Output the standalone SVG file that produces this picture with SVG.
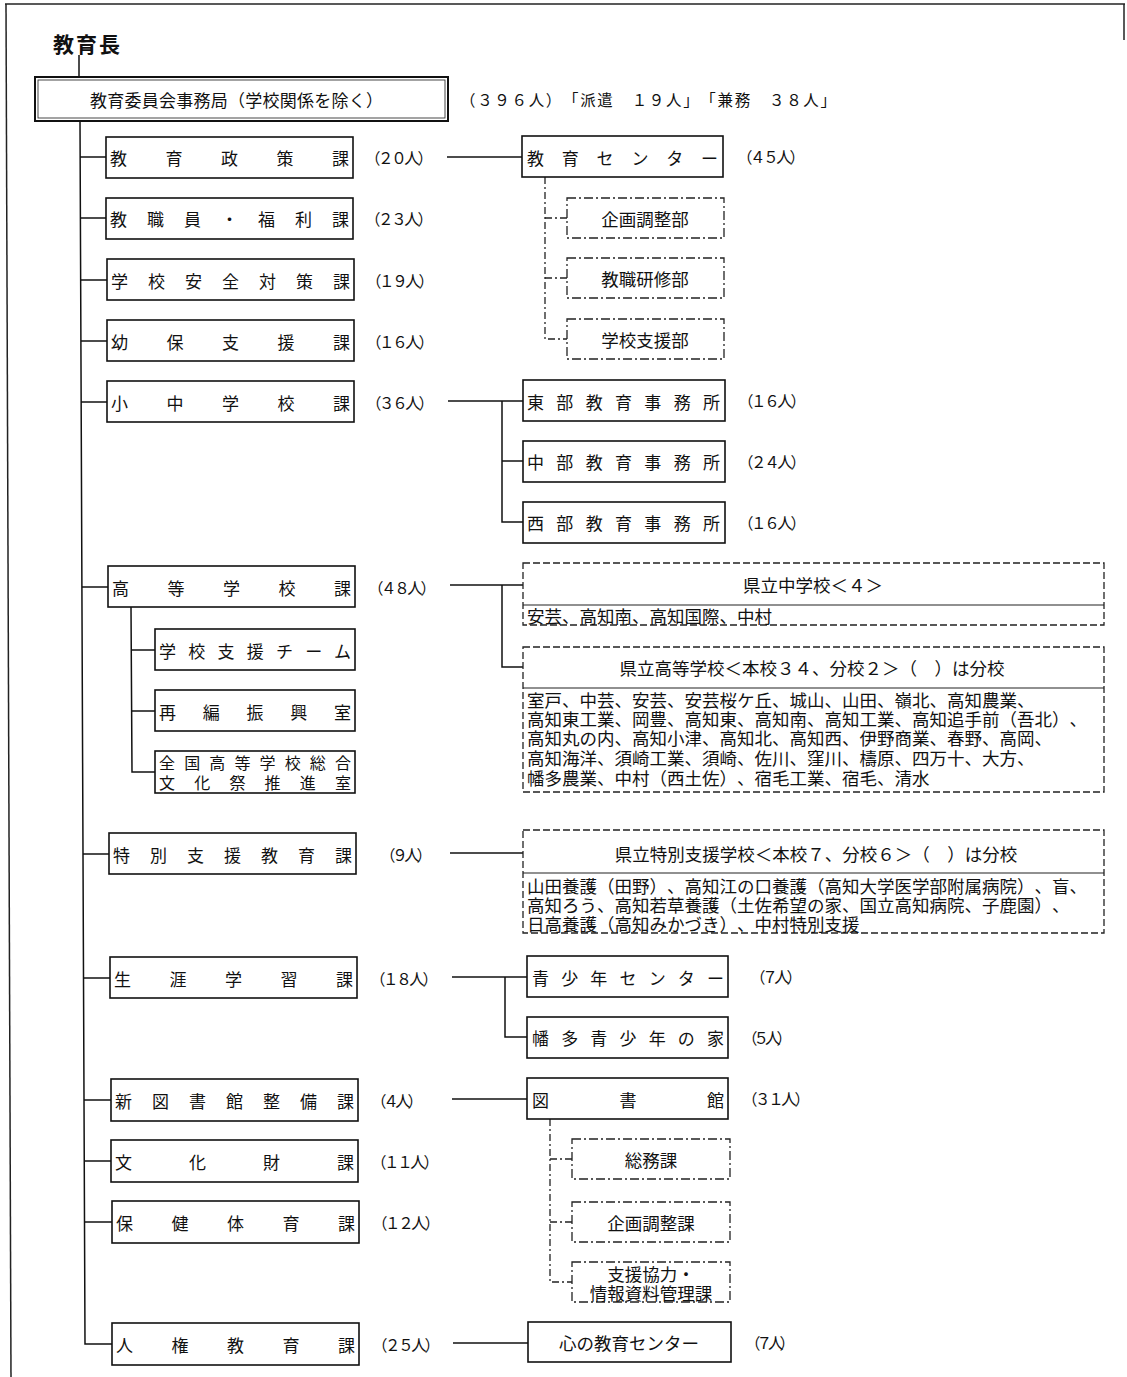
<svg xmlns="http://www.w3.org/2000/svg" width="1127" height="1377" viewBox="0 0 1127 1377">
<style>
text{font-family:"Noto Sans CJK JP","Noto Sans CJK SC",sans-serif;fill:#111;dominant-baseline:central;text-spacing-trim:space-all}
.b{fill:#fff;stroke:#111;stroke-width:1.6}
.d{fill:#fff;stroke:#222;stroke-width:1.3;stroke-dasharray:9 3 2 3}
.dd{fill:none;stroke:#222;stroke-width:1.3;stroke-dasharray:7 3}
.l{fill:none;stroke:#111;stroke-width:1.5}
.dl{fill:none;stroke:#222;stroke-width:1.3;stroke-dasharray:7 3 2 3}
.t{font-size:17px}
.c{font-size:15.5px}
.s{font-size:17.5px}
.li{font-size:17.5px}
.m{text-anchor:middle}
.fr{fill:none;stroke:#222;stroke-width:1.5}
</style>
<rect x="0" y="0" width="1127" height="1377" fill="#fff"/>
<g id="frame">
<line class="fr" x1="5" y1="4" x2="1125" y2="4"/>
<line class="fr" x1="6" y1="4" x2="11" y2="1377"/>
<line class="fr" x1="1124" y1="4" x2="1124" y2="40"/>
</g>
<g id="connectors">
<line class="l" x1="79" y1="55" x2="79" y2="77"/>
<polyline class="l" points="80,121 85,1344 112,1344"/>
<line class="l" x1="80" y1="157" x2="106" y2="157"/>
<line class="l" x1="80" y1="218" x2="106" y2="218"/>
<line class="l" x1="80" y1="280" x2="107" y2="280"/>
<line class="l" x1="81" y1="341" x2="107" y2="341"/>
<line class="l" x1="81" y1="402" x2="107" y2="402"/>
<line class="l" x1="82" y1="587" x2="108" y2="587"/>
<polyline class="l" points="131,607 132,772 155,772"/>
<line class="l" x1="131" y1="650" x2="155" y2="650"/>
<line class="l" x1="131" y1="711" x2="155" y2="711"/>
<line class="l" x1="83" y1="854" x2="109" y2="854"/>
<line class="l" x1="84" y1="978" x2="110" y2="978"/>
<line class="l" x1="84" y1="1100" x2="111" y2="1100"/>
<line class="l" x1="84" y1="1161" x2="111" y2="1161"/>
<line class="l" x1="85" y1="1222" x2="112" y2="1222"/>
<line class="l" x1="447" y1="157" x2="522" y2="157"/>
<line class="l" x1="448" y1="401" x2="523" y2="401"/>
<polyline class="l" points="502,401 502,522 523,522"/>
<line class="l" x1="502" y1="461" x2="523" y2="461"/>
<line class="l" x1="450" y1="585" x2="523" y2="585"/>
<polyline class="l" points="502,585 502,667 523,667"/>
<line class="l" x1="450" y1="853" x2="523" y2="853"/>
<line class="l" x1="452" y1="977" x2="527" y2="977"/>
<polyline class="l" points="505,977 505,1037 527,1037"/>
<line class="l" x1="452" y1="1099" x2="528" y2="1099"/>
<line class="l" x1="453" y1="1343" x2="528" y2="1343"/>
<polyline class="dl" points="545,177 545,339 567,339"/>
<line class="dl" x1="545" y1="218" x2="567" y2="218"/>
<line class="dl" x1="545" y1="278" x2="567" y2="278"/>
<polyline class="dl" points="550,1119 550,1282 572,1282"/>
<line class="dl" x1="550" y1="1159" x2="572" y2="1159"/>
<line class="dl" x1="550" y1="1222" x2="572" y2="1222"/>
</g>
<g id="kyoikucho"><text x="53" y="43" style="font-size:21px;font-weight:bold" textLength="67" lengthAdjust="spacing">教育長</text></g>
<g id="jimukyoku">
<rect class="b" x="35" y="77" width="413" height="44" style="stroke-width:2"/>
<rect x="38" y="80" width="407" height="38" fill="none" stroke="#333" stroke-width="0.9"/>
<text class="t" x="90" y="99" textLength="293" lengthAdjust="spacing">教育委員会事務局（学校関係を除く）</text>
<text class="c" x="460" y="99" textLength="376" lengthAdjust="spacing">（３９６人）「派遣　１９人」「兼務　３８人」</text>
</g>
<g id="n1"><rect class="b" x="106" y="137" width="247" height="41"/><text class="t" x="110" y="157" textLength="239" lengthAdjust="spacing">教育政策課</text><text class="c" x="365" y="157" textLength="68" lengthAdjust="spacing">（２０人）</text></g>
<g id="n2"><rect class="b" x="106" y="198" width="247" height="41"/><text class="t" x="110" y="218" textLength="239" lengthAdjust="spacing">教職員・福利課</text><text class="c" x="365" y="218" textLength="68" lengthAdjust="spacing">（２３人）</text></g>
<g id="n3"><rect class="b" x="107" y="259" width="247" height="41"/><text class="t" x="111" y="280" textLength="239" lengthAdjust="spacing">学校安全対策課</text><text class="c" x="366" y="280" textLength="68" lengthAdjust="spacing">（１９人）</text></g>
<g id="n4"><rect class="b" x="107" y="320" width="247" height="41"/><text class="t" x="111" y="341" textLength="239" lengthAdjust="spacing">幼保支援課</text><text class="c" x="366" y="341" textLength="68" lengthAdjust="spacing">（１６人）</text></g>
<g id="n5"><rect class="b" x="107" y="381" width="247" height="41"/><text class="t" x="111" y="402" textLength="239" lengthAdjust="spacing">小中学校課</text><text class="c" x="366" y="402" textLength="68" lengthAdjust="spacing">（３６人）</text></g>
<g id="n6"><rect class="b" x="108" y="566" width="247" height="41"/><text class="t" x="112" y="587" textLength="239" lengthAdjust="spacing">高等学校課</text><text class="c" x="368" y="587" textLength="68" lengthAdjust="spacing">（４８人）</text></g>
<g id="n6a"><rect class="b" x="155" y="629" width="200" height="41"/><text class="t" x="159" y="650" textLength="192" lengthAdjust="spacing">学校支援チーム</text></g>
<g id="n6b"><rect class="b" x="155" y="690" width="200" height="41"/><text class="t" x="159" y="711" textLength="192" lengthAdjust="spacing">再編振興室</text></g>
<g id="n6c"><rect class="b" x="155" y="751" width="200" height="42"/><text style="font-size:16px" x="159" y="762" textLength="192" lengthAdjust="spacing">全国高等学校総合</text><text style="font-size:16px" x="159" y="782" textLength="192" lengthAdjust="spacing">文化祭推進室</text></g>
<g id="n7"><rect class="b" x="109" y="833" width="247" height="41"/><text class="t" x="113" y="854" textLength="239" lengthAdjust="spacing">特別支援教育課</text><text class="c" x="380" y="854" textLength="52" lengthAdjust="spacing">（９人）</text></g>
<g id="n8"><rect class="b" x="110" y="957" width="247" height="41"/><text class="t" x="114" y="978" textLength="239" lengthAdjust="spacing">生涯学習課</text><text class="c" x="370" y="978" textLength="68" lengthAdjust="spacing">（１８人）</text></g>
<g id="n9"><rect class="b" x="111" y="1079" width="247" height="42"/><text class="t" x="115" y="1100" textLength="239" lengthAdjust="spacing">新図書館整備課</text><text class="c" x="371" y="1100" textLength="52" lengthAdjust="spacing">（４人）</text></g>
<g id="n10"><rect class="b" x="111" y="1140" width="247" height="42"/><text class="t" x="115" y="1161" textLength="239" lengthAdjust="spacing">文化財課</text><text class="c" x="371" y="1161" textLength="68" lengthAdjust="spacing">（１１人）</text></g>
<g id="n11"><rect class="b" x="112" y="1201" width="247" height="42"/><text class="t" x="116" y="1222" textLength="239" lengthAdjust="spacing">保健体育課</text><text class="c" x="372" y="1222" textLength="68" lengthAdjust="spacing">（１２人）</text></g>
<g id="n12"><rect class="b" x="112" y="1323" width="247" height="42"/><text class="t" x="116" y="1344" textLength="239" lengthAdjust="spacing">人権教育課</text><text class="c" x="372" y="1344" textLength="68" lengthAdjust="spacing">（２５人）</text></g>
<g id="r1"><rect class="b" x="522" y="136" width="201" height="41"/><text class="t" x="527" y="157" textLength="191" lengthAdjust="spacing">教育センター</text><text class="c" x="737" y="156" textLength="68" lengthAdjust="spacing">（４５人）</text></g>
<g id="r1a"><rect class="d" x="567" y="198" width="157" height="40"/><text class="s m" x="645" y="218">企画調整部</text></g>
<g id="r1b"><rect class="d" x="567" y="258" width="157" height="40"/><text class="s m" x="645" y="278">教職研修部</text></g>
<g id="r1c"><rect class="d" x="567" y="319" width="157" height="40"/><text class="s m" x="645" y="339">学校支援部</text></g>
<g id="r2"><rect class="b" x="523" y="380" width="202" height="41"/><text class="t" x="527" y="401" textLength="193" lengthAdjust="spacing">東部教育事務所</text><text class="c" x="738" y="400" textLength="68" lengthAdjust="spacing">（１６人）</text></g>
<g id="r3"><rect class="b" x="523" y="441" width="202" height="41"/><text class="t" x="527" y="461" textLength="193" lengthAdjust="spacing">中部教育事務所</text><text class="c" x="738" y="461" textLength="68" lengthAdjust="spacing">（２４人）</text></g>
<g id="r4"><rect class="b" x="523" y="502" width="202" height="41"/><text class="t" x="527" y="522" textLength="193" lengthAdjust="spacing">西部教育事務所</text><text class="c" x="738" y="522" textLength="68" lengthAdjust="spacing">（１６人）</text></g>
<g id="r5">
<rect class="dd" x="523" y="563" width="581" height="62"/>
<line x1="523" y1="605" x2="1104" y2="605" stroke="#222" stroke-width="1.2"/>
<text class="s m" x="813" y="584">県立中学校＜４＞</text>
<text class="li" x="527" y="615">安芸、高知南、高知国際、中村</text>
</g>
<g id="r6">
<rect class="dd" x="523" y="647" width="581" height="145"/>
<line x1="523" y1="688" x2="1104" y2="688" stroke="#222" stroke-width="1.2"/>
<text class="s m" x="812" y="667">県立高等学校＜本校３４、分校２＞（　）は分校</text>
<text class="li" x="527" y="699">室戸、中芸、安芸、安芸桜ケ丘、城山、山田、嶺北、高知農業、</text>
<text class="li" x="527" y="718">高知東工業、岡豊、高知東、高知南、高知工業、高知追手前（吾北）、</text>
<text class="li" x="527" y="737">高知丸の内、高知小津、高知北、高知西、伊野商業、春野、高岡、</text>
<text class="li" x="527" y="757">高知海洋、須崎工業、須崎、佐川、窪川、檮原、四万十、大方、</text>
<text class="li" x="527" y="777">幡多農業、中村（西土佐）、宿毛工業、宿毛、清水</text>
</g>
<g id="r7">
<rect class="dd" x="523" y="830" width="581" height="103"/>
<line x1="523" y1="873" x2="1104" y2="873" stroke="#222" stroke-width="1.2"/>
<text class="s m" x="816" y="853">県立特別支援学校＜本校７、分校６＞（　）は分校</text>
<text class="li" x="527" y="885">山田養護（田野）、高知江の口養護（高知大学医学部附属病院）、盲、</text>
<text class="li" x="527" y="904">高知ろう、高知若草養護（土佐希望の家、国立高知病院、子鹿園）、</text>
<text class="li" x="527" y="923">日高養護（高知みかづき）、中村特別支援</text>
</g>
<g id="r8"><rect class="b" x="527" y="956" width="201" height="41"/><text class="t" x="532" y="977" textLength="192" lengthAdjust="spacing">青少年センター</text><text class="c" x="750" y="976" textLength="52" lengthAdjust="spacing">（７人）</text></g>
<g id="r9"><rect class="b" x="527" y="1017" width="201" height="41"/><text class="t" x="532" y="1037" textLength="192" lengthAdjust="spacing">幡多青少年の家</text><text class="c" x="742" y="1037" textLength="50" lengthAdjust="spacing">（５人）</text></g>
<g id="r10"><rect class="b" x="527" y="1078" width="201" height="41"/><text class="t" x="532" y="1099" textLength="192" lengthAdjust="spacing">図書館</text><text class="c" x="742" y="1098" textLength="68" lengthAdjust="spacing">（３１人）</text></g>
<g id="r10a"><rect class="d" x="572" y="1139" width="158" height="40"/><text class="s m" x="651" y="1159">総務課</text></g>
<g id="r10b"><rect class="d" x="572" y="1202" width="158" height="40"/><text class="s m" x="651" y="1222">企画調整課</text></g>
<g id="r10c"><rect class="d" x="572" y="1262" width="158" height="40"/><text class="s m" x="651" y="1273">支援協力・</text><text class="s m" x="651" y="1292">情報資料管理課</text></g>
<g id="r11"><rect class="b" x="528" y="1322" width="203" height="40"/><text class="s m" x="629" y="1342">心の教育センター</text><text class="c" x="745" y="1342" textLength="50" lengthAdjust="spacing">（７人）</text></g>
</svg>
